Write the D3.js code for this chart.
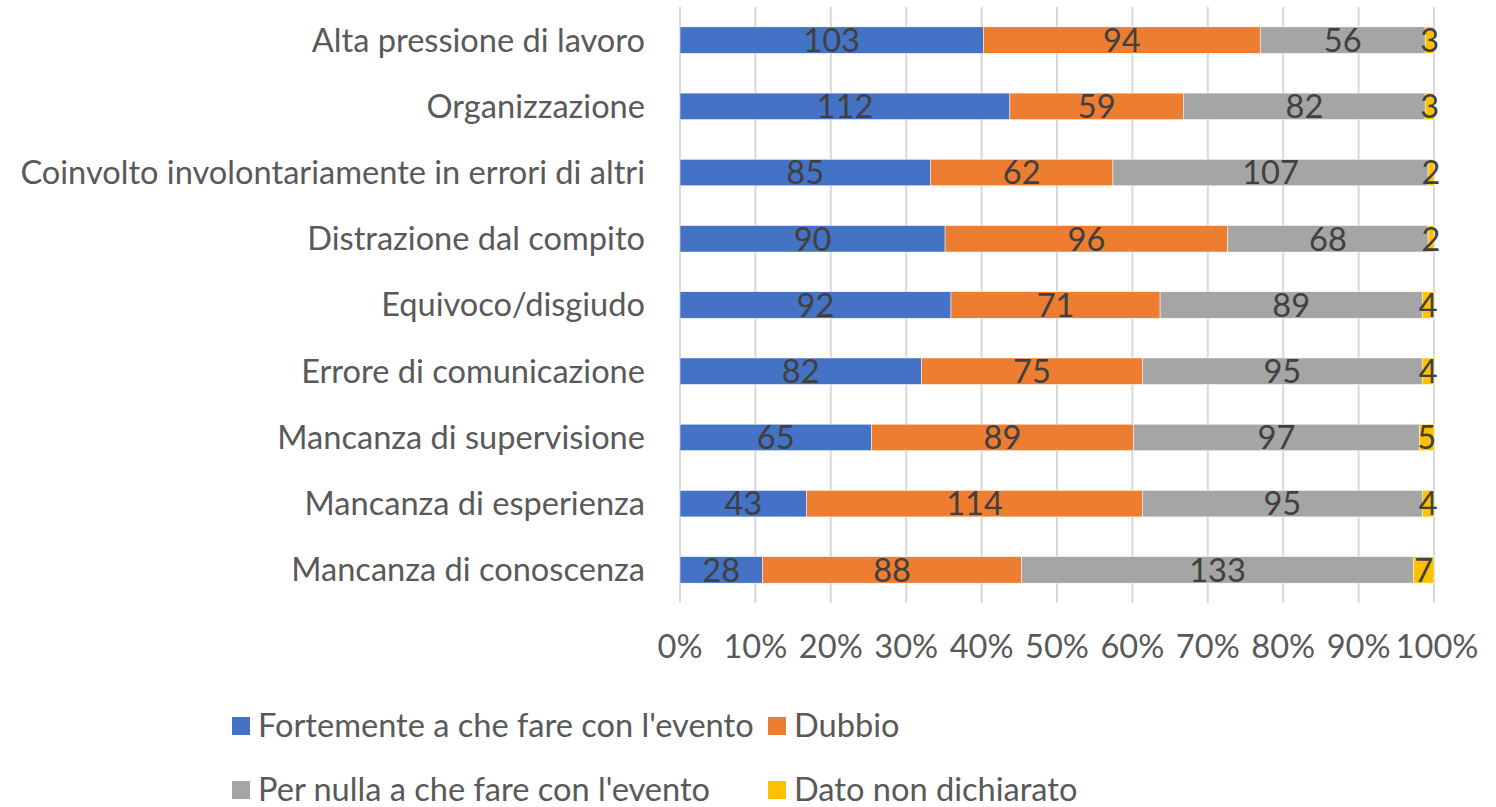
<!DOCTYPE html>
<html>
<head>
<meta charset="utf-8">
<script src="https://cdn.jsdelivr.net/npm/d3@7"></script>
<style>
  body { margin: 0; background: #fff; }
  svg text { font-family: Lato, 'Open Sans', sans-serif; }
</style>
</head>
<body>
<div id="chart"></div>
<script>
const categories = [
  'Alta pressione di lavoro',
  'Organizzazione',
  'Coinvolto involontariamente in errori di altri',
  'Distrazione dal compito',
  'Equivoco/disgiudo',
  'Errore di comunicazione',
  'Mancanza di supervisione',
  'Mancanza di esperienza',
  'Mancanza di conoscenza'
]
const seriesNames = [
  'Fortemente a che fare con l\'evento',
  'Dubbio',
  'Per nulla a che fare con l\'evento',
  'Dato non dichiarato'
]
const fortemente = [103, 112, 85, 90, 92, 82, 65, 43, 28]
const dubbio = [94, 59, 62, 96, 71, 75, 89, 114, 88]
const perNulla = [56, 82, 107, 68, 89, 95, 97, 95, 133]
const nonDichiarato = [3, 3, 2, 2, 4, 4, 5, 4, 7]
const tickValues = [0, 0.1, 0.2, 0.3, 0.4, 0.5, 0.6, 0.7, 0.8, 0.9, 1]
const colors = ['#4472C4', '#ED7D31', '#A5A5A5', '#FFC000']

const W = 1496
const H = 807
const margin = { top: 7, right: 62, bottom: 204, left: 680 }
const fontSize = 32.6

const svg = d3.select('#chart').append('svg')
  .attr('width', W)
  .attr('height', H)

const g = svg.append('g')
  .attr('transform', `translate(${margin.left},${margin.top})`)

const width = W - margin.left - margin.right
const height = H - margin.top - margin.bottom

const seriesValues = [fortemente, dubbio, perNulla, nonDichiarato]
const rows = categories.map((c, i) => {
  const row = { category: c }
  seriesNames.forEach((s, j) => { row[s] = seriesValues[j][i] })
  return row
})

const stacked = d3.stack()
  .keys(seriesNames)
  .offset(d3.stackOffsetExpand)(rows)

const x = d3.scaleLinear().domain([0, 1]).range([0, width])
const y = d3.scaleBand().domain(categories).range([0, height]).paddingInner(0.6).paddingOuter(0.3)

// gridlines
g.append('g')
  .selectAll('line')
  .data(tickValues)
  .join('line')
  .attr('x1', d => x(d))
  .attr('x2', d => x(d))
  .attr('y1', 0)
  .attr('y2', height)
  .attr('stroke', '#d9d9d9')
  .attr('stroke-width', 2)

// x tick labels
g.append('g')
  .selectAll('text')
  .data(tickValues)
  .join('text')
  .attr('x', d => x(d) + (d === 1 ? 3 : 0))
  .attr('y', height + 44)
  .attr('dy', '0.35em')
  .attr('text-anchor', 'middle')
  .attr('fill', '#595959')
  .attr('font-size', fontSize)
  .text(d => d3.format('.0%')(d))

// category labels
g.append('g')
  .selectAll('text')
  .data(categories)
  .join('text')
  .attr('x', -35)
  .attr('y', d => y(d) + y.bandwidth() / 2)
  .attr('dy', '0.35em')
  .attr('text-anchor', 'end')
  .attr('fill', '#595959')
  .attr('font-size', fontSize)
  .text(d => d)

// bars
const layers = g.append('g')
  .selectAll('g')
  .data(stacked)
  .join('g')
  .attr('fill', (d, i) => colors[i])

layers.selectAll('rect')
  .data(d => d)
  .join('rect')
  .attr('x', d => x(d[0]))
  .attr('y', d => y(d.data.category))
  .attr('width', d => x(d[1]) - x(d[0]))
  .attr('height', y.bandwidth())
  .attr('stroke', '#fff')
  .attr('stroke-width', 0.5)

layers.selectAll('text')
  .data((d) => d.map(p => ({ p, key: d.key })))
  .join('text')
  .attr('x', d => (x(d.p[0]) + x(d.p[1])) / 2)
  .attr('y', d => y(d.p.data.category) + y.bandwidth() / 2)
  .attr('dy', '0.36em')
  .attr('text-anchor', 'middle')
  .attr('fill', '#404040')
  .attr('font-size', fontSize)
  .text(d => d.p.data[d.key])

// legend
const legend = svg.append('g')
const legendPos = [[232, 726], [768, 726], [232, 790], [768, 790]]
seriesNames.forEach((s, i) => {
  const [lx, ly] = legendPos[i]
  legend.append('rect')
    .attr('x', lx)
    .attr('y', ly - 9)
    .attr('width', 18)
    .attr('height', 18)
    .attr('fill', colors[i])
  legend.append('text')
    .attr('x', lx + 26)
    .attr('y', ly)
    .attr('dy', '0.35em')
    .attr('fill', '#595959')
    .attr('font-size', fontSize)
    .text(s)
})
</script>
</body>
</html>
